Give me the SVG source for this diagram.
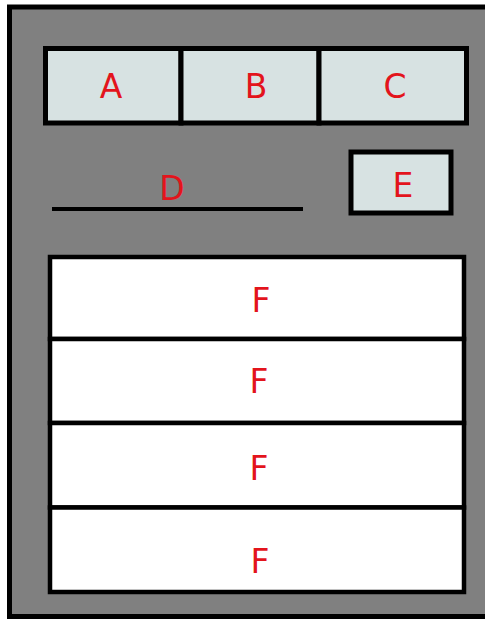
<svg xmlns="http://www.w3.org/2000/svg" width="485" height="619" viewBox="0 0 485 619">
<style>
.lbl{font-family:"DejaVu Sans",Verdana,sans-serif;font-size:33px;fill:#e3141c;text-anchor:middle}
.box{fill:#d7e2e2;stroke:#000;stroke-width:5}
.fbox{fill:#fff;stroke:#000;stroke-width:4.5}
</style>
<rect x="0" y="0" width="485" height="619" fill="#fff"/>
<g id="frame"><rect x="9.5" y="7" width="520" height="609.5" fill="#808080" stroke="#000" stroke-width="5"/></g>
<g id="A"><rect class="box" x="45.5" y="48.5" width="135.5" height="74.5"/><text class="lbl" x="111" y="98">A</text></g>
<g id="B"><rect class="box" x="181" y="48.5" width="138" height="74.5"/><text class="lbl" x="256" y="98">B</text></g>
<g id="C"><rect class="box" x="319" y="48.5" width="147.5" height="74.5"/><text class="lbl" x="395" y="98">C</text></g>
<g id="D"><line x1="52" y1="209" x2="303" y2="209" stroke="#000" stroke-width="4"/><text class="lbl" x="172" y="200">D</text></g>
<g id="E"><rect class="box" x="351" y="152" width="100" height="61" stroke-width="4.5"/><text class="lbl" x="403" y="197">E</text></g>
<g id="F1"><rect class="fbox" x="50" y="257" width="414" height="82"/><text class="lbl" x="261" y="312">F</text></g>
<g id="F2"><rect class="fbox" x="50" y="339" width="414" height="84"/><text class="lbl" x="259" y="393">F</text></g>
<g id="F3"><rect class="fbox" x="50" y="423" width="414" height="84.5"/><text class="lbl" x="259" y="480">F</text></g>
<g id="F4"><rect class="fbox" x="50" y="507.5" width="414" height="84.5"/><text class="lbl" x="260" y="573">F</text></g>
<g id="connectors"></g>
</svg>
